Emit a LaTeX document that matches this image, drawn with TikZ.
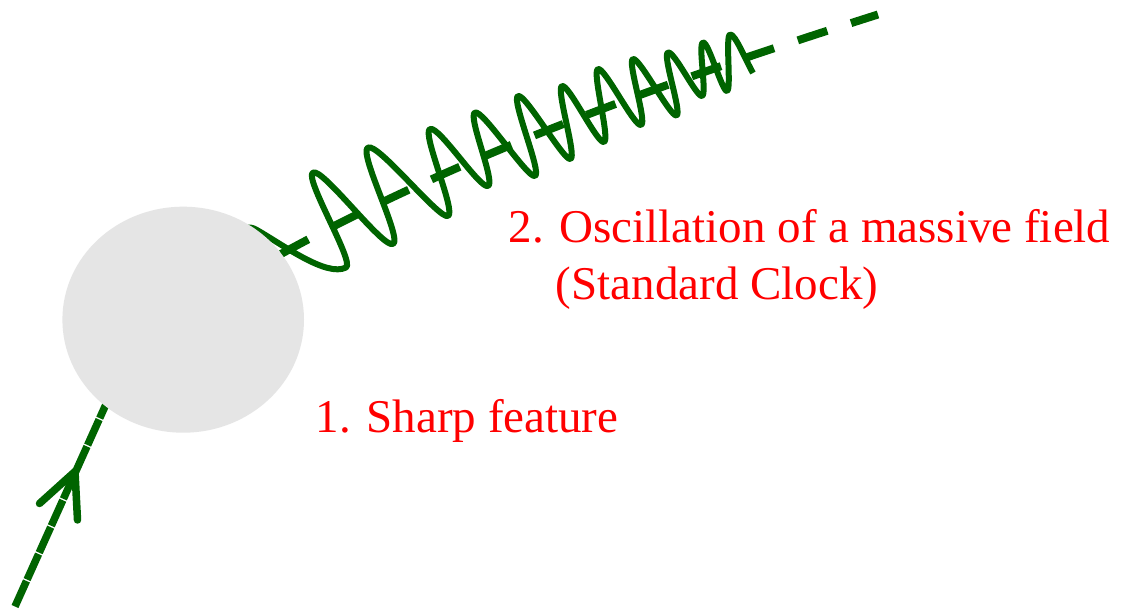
\documentclass[tikz,border=0pt]{standalone}
\usepackage{fontspec}
\setmainfont{Liberation Serif}
\usetikzlibrary{shapes.geometric}
\definecolor{fgreen}{RGB}{0,100,0}
\definecolor{blobgray}{RGB}{229,229,229}
\definecolor{lblred}{RGB}{255,0,0}
\begin{document}
\begin{tikzpicture}[x=1pt,y=-1pt,
  wave/.style={draw=fgreen, line width=6pt, line join=round},
  track/.style={draw=fgreen, line width=8pt, dash pattern=on 31pt off 25pt},
  incoming/.style={draw=fgreen, line width=7.5pt, dash pattern=on 28pt off 1.5pt},
  arrowarm/.style={draw=fgreen, line width=7.5pt, line cap=round, line join=round},
  blob/.style={ellipse, fill=blobgray, inner sep=0pt, minimum width=241.6pt, minimum height=226pt},
  lbl/.style={text=lblred, font=\fontsize{47}{57}\selectfont, inner sep=0pt, anchor=base west}]
\fill[white] (0,0) rectangle (1127,609);
\useasboundingbox (0,0) rectangle (1127,609);

% extremes of the oscillation
\coordinate (s0) at (236,232);
\coordinate (q0) at (256,229.5);
\coordinate (t1) at (346,267.5);  \coordinate (p1) at (313,172.5);
\coordinate (t2) at (393,244);    \coordinate (p2) at (368,147.5);
\coordinate (t3) at (448,216);    \coordinate (p3) at (430,129);
\coordinate (t4) at (488,186);    \coordinate (p4) at (475,112.5);
\coordinate (t5) at (535,176);    \coordinate (p5) at (518,96);
\coordinate (t6) at (570.5,159);  \coordinate (p6) at (562,86);
\coordinate (t7) at (604,142);    \coordinate (p7) at (598,69);
\coordinate (t8) at (641,125);    \coordinate (p8) at (633,59);
\coordinate (t9) at (676.5,115.5);\coordinate (p9) at (668,52.5);
\coordinate (t10) at (702,96);    \coordinate (p10) at (703,42.5);
\coordinate (t11) at (727,91);    \coordinate (p11) at (730,34.5);
\coordinate (wend) at (753,73);

\draw[wave] (s0) .. controls (244,228) and (249,225.6) .. (q0)
  .. controls +(26.1,14.7) and +(-19.6,10) .. (t1)
  .. controls +(9.36,-4.77) and +(-9.62,4.90) .. (p1)
  .. controls +(9.62,-4.90) and +(-9.97,4.65) .. (t2)
  .. controls +(9.97,-4.65) and +(-10.24,4.78) .. (p2)
  .. controls +(10.24,-4.78) and +(-8.75,3.71) .. (t3)
  .. controls +(8.75,-3.71) and +(-8.75,3.71) .. (p3)
  .. controls +(8.75,-3.71) and +(-8.13,3.11) .. (t4)
  .. controls +(8.13,-3.11) and +(-7.94,3.04) .. (p4)
  .. controls +(7.94,-3.04) and +(-7.33,2.67) .. (t5)
  .. controls +(7.33,-2.67) and +(-7.33,2.67) .. (p5)
  .. controls +(7.33,-2.67) and +(-6.62,2.28) .. (t6)
  .. controls +(6.62,-2.28) and +(-6.53,2.25) .. (p6)
  .. controls +(6.53,-2.25) and +(-6.56,2.13) .. (t7)
  .. controls +(6.56,-2.13) and +(-6.47,2.10) .. (p7)
  .. controls +(6.47,-2.10) and +(-6.60,2.01) .. (t8)
  .. controls +(6.60,-2.01) and +(-6.21,1.90) .. (p8)
  .. controls +(6.21,-1.90) and +(-5.96,1.71) .. (t9)
  .. controls +(5.96,-1.71) and +(-6.15,1.77) .. (p9)
  .. controls +(6.15,-1.77) and +(-5.29,1.52) .. (t10)
  .. controls +(5.29,-1.52) and +(-5.29,1.52) .. (p10)
  .. controls +(5.29,-1.52) and +(-4.61,1.32) .. (t11)
  .. controls +(4.61,-1.32) and +(-4.81,1.38) .. (p11)
  .. controls +(4.81,-1.38) and (746,61) .. (wend);

% dashed trajectory after the feature
\coordinate (trackStart) at (281,254);
\coordinate (trackEnd) at (878,14.5);
\draw[track] (trackStart) .. controls (474.8,148) and (687.5,75) .. (trackEnd);

% incoming trajectory with arrow
\coordinate (inStart) at (15,606.5);
\coordinate (inEnd) at (111.4,392.2);
\draw[incoming] (inStart) -- (inEnd);
\coordinate (tip) at (75,471.5);
\coordinate (armL) at (39.5,503.5);
\coordinate (armR) at (77.5,520);
\draw[arrowarm] (armL) -- (tip) -- (armR);

% the sharp feature
\node[blob] (blob) at (183.2,319.7) {};

% labels
\node[lbl] (osc) at (508.5,242.5) {2. Oscillation of a massive field};
\node[lbl] (clock) at (555.7,300) {(Standard Clock)};
\node[lbl] (sharp) at (315.5,432.7) {1. Sharp feature};
\end{tikzpicture}
\end{document}
